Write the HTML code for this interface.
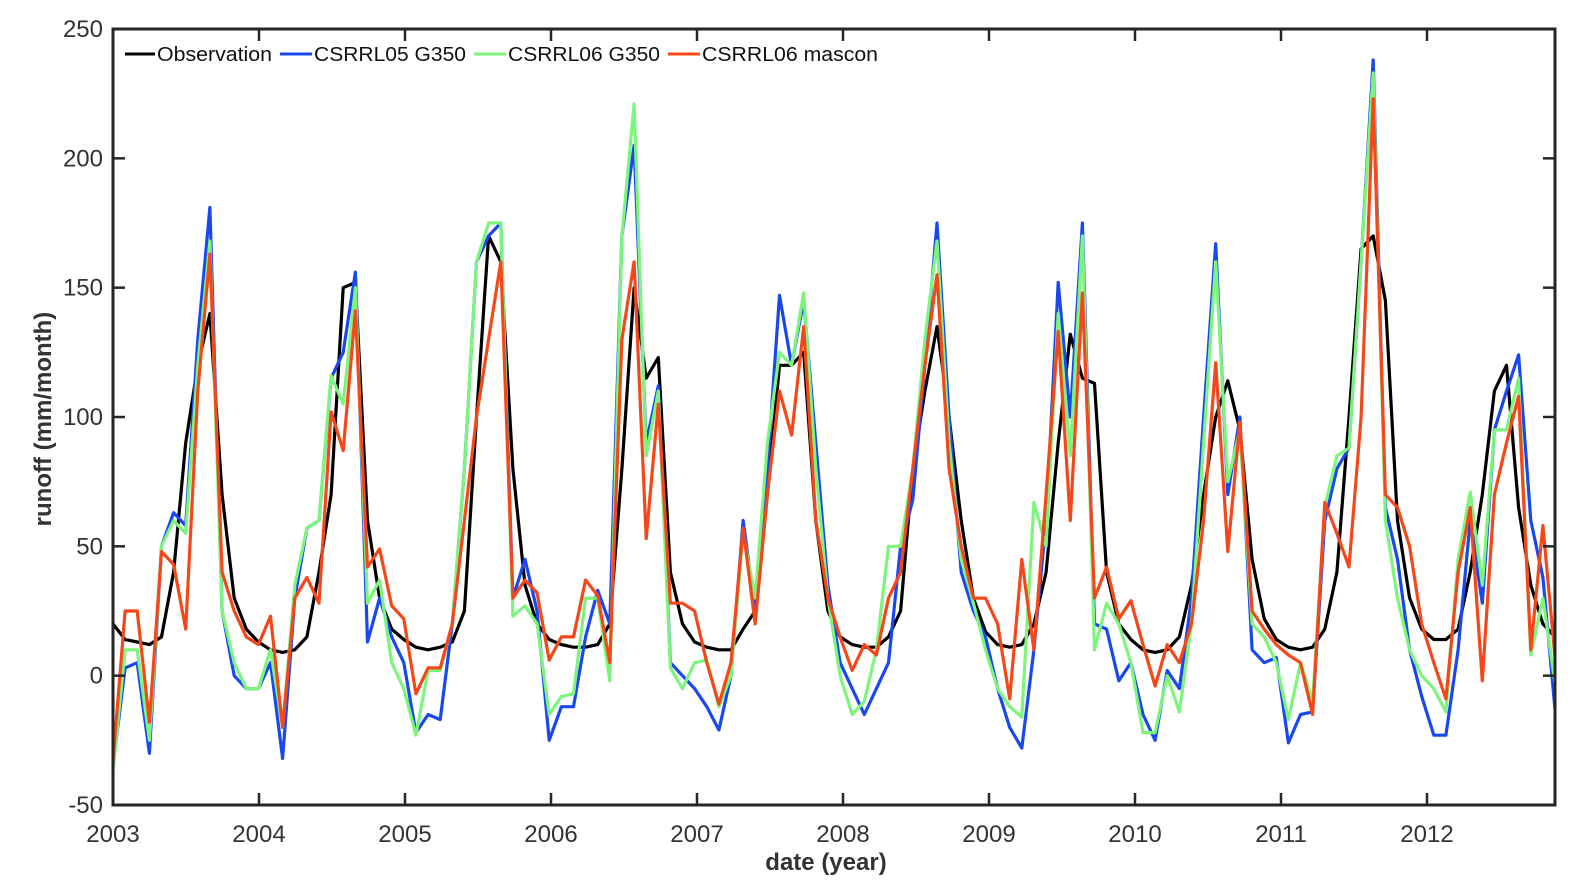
<!DOCTYPE html>
<html><head><meta charset="utf-8"><style>
html,body{margin:0;padding:0;background:#fff;}
svg{display:block;font-family:"Liberation Sans",Arial,sans-serif;}
</style></head><body>
<svg id="s" width="1583" height="894" viewBox="0 0 1583 894" xmlns="http://www.w3.org/2000/svg">
<rect width="1583" height="894" fill="#fff"/>
<g id="series" fill="none" stroke-width="3.2" stroke-linejoin="round"></g>
<rect x="113" y="29" width="1442" height="776" fill="none" stroke="#262626" stroke-width="3"/>
<g id="ticks" stroke="#262626" stroke-width="2.5"></g>
<g id="labels" fill="#333" font-size="24"></g>
<text x="826" y="870" text-anchor="middle" font-size="24" font-weight="bold" fill="#333">date (year)</text>
<text transform="translate(51,419) rotate(-90)" text-anchor="middle" font-size="24" font-weight="bold" fill="#333">runoff (mm/month)</text>
<g font-size="20" fill="#111">
<line x1="125" y1="54" x2="155" y2="54" stroke="#000" stroke-width="3"/>
<text x="157" y="61" textLength="115" lengthAdjust="spacingAndGlyphs">Observation</text>
<line x1="280" y1="54" x2="312" y2="54" stroke="#1a48f0" stroke-width="3"/>
<text x="314" y="61" textLength="152" lengthAdjust="spacingAndGlyphs">CSRRL05 G350</text>
<line x1="474" y1="54" x2="506" y2="54" stroke="#7df57d" stroke-width="3"/>
<text x="508" y="61" textLength="152" lengthAdjust="spacingAndGlyphs">CSRRL06 G350</text>
<line x1="668" y1="54" x2="700" y2="54" stroke="#f5481a" stroke-width="3"/>
<text x="702" y="61" textLength="176" lengthAdjust="spacingAndGlyphs">CSRRL06 mascon</text>
</g>
</svg>
<script>
var X0=113,X1=1555,Y0=805,YT=29;
function yv(v){return Y0-(v+50)*(Y0-YT)/300;}
function xm(i){return X0+i*(X1-X0)/119;}
var NS="http://www.w3.org/2000/svg";
var obs=[20,14,13,12,15,40,90,120,140,70,30,18,
13,10,9,10,15,40,70,150,152,60,30,18,
14,11,10,11,13,25,100,170,160,80,35,20,
14,12,11,11,12,20,80,150,115,123,40,20,
13,11,10,10,18,25,70,120,120,125,60,25,
15,12,11,11,15,25,80,110,135,100,60,30,
17,12,11,12,20,40,90,132,115,113,40,20,
14,10,9,10,15,35,70,100,114,95,45,22,
14,11,10,11,18,40,100,165,170,145,60,30,
18,14,14,18,40,70,110,120,65,35,20,15];
var blue=[-35,3,5,-30,50,63,58,130,181,25,0,-5,
-5,5,-32,30,57,60,115,125,156,13,30,15,
5,-22,-15,-17,20,80,160,170,175,30,45,25,
-25,-12,-12,15,33,20,170,205,90,112,5,0,
-5,-12,-21,0,60,25,80,147,120,145,90,35,
5,-5,-15,-5,5,50,68,120,175,100,40,25,
15,-5,-20,-28,10,60,152,100,175,20,18,-2,
5,-15,-25,2,-5,30,100,167,70,100,10,5,
7,-26,-15,-14,60,80,88,160,238,65,45,10,
-8,-23,-23,10,60,28,95,110,124,60,38,-13];
var green=[-37,10,10,-25,50,60,55,120,168,25,5,-5,
-5,10,-20,35,57,60,116,105,150,28,37,5,
-5,-23,2,2,20,80,160,175,175,23,27,20,
-15,-8,-7,30,30,-2,170,221,85,110,3,-5,
5,6,-12,0,55,30,90,125,120,148,80,30,
0,-15,-10,10,50,50,80,130,168,90,45,28,
10,-5,-12,-16,67,50,140,85,170,10,28,20,
5,-22,-22,0,-14,20,90,160,75,95,20,15,
5,-17,5,-10,65,85,88,160,233,60,30,10,
0,-5,-14,45,71,35,95,95,115,8,30,-3];
var orange=[-33,25,25,-18,48,43,18,110,163,40,25,15,
12,23,-20,30,38,28,102,87,141,42,49,27,
22,-7,3,3,20,60,100,130,160,30,37,32,
6,15,15,37,31,5,130,160,53,105,28,28,
25,5,-11,5,57,20,70,110,93,135,60,30,
15,2,12,8,30,40,80,120,155,80,50,30,
30,20,-9,45,10,70,133,60,148,30,42,22,
29,12,-4,12,5,20,60,121,48,98,25,18,
12,8,5,-15,67,55,42,100,223,70,65,50,
20,5,-9,40,65,-2,70,90,108,10,58,7];
var g=document.getElementById("series");
[[obs,"#000"],[blue,"#1a48f0"],[green,"#7df57d"],[orange,"#f5481a"]].forEach(function(s){
 var p=document.createElementNS(NS,"polyline");
 p.setAttribute("points",s[0].map(function(v,i){return xm(i).toFixed(1)+","+yv(v).toFixed(1);}).join(" "));
 p.setAttribute("stroke",s[1]);g.appendChild(p);});
var t=document.getElementById("ticks"),l=document.getElementById("labels");
function ln(a,b,c,d){var e=document.createElementNS(NS,"line");e.setAttribute("x1",a);e.setAttribute("y1",b);e.setAttribute("x2",c);e.setAttribute("y2",d);t.appendChild(e);}
function tx(x,y,s,anc){var e=document.createElementNS(NS,"text");e.setAttribute("x",x);e.setAttribute("y",y);e.setAttribute("text-anchor",anc);e.textContent=s;l.appendChild(e);}
for(var v=-50;v<=250;v+=50){var y=yv(v);ln(X0,y,X0+12,y);ln(X1,y,X1-12,y);tx(103,y+8,String(v),"end");}
for(var k=0;k<10;k++){var x=X0+k*146;ln(x,Y0,x,Y0-12);ln(x,YT,x,YT+12);tx(x,842,String(2003+k),"middle");}
</script>
</body></html>
